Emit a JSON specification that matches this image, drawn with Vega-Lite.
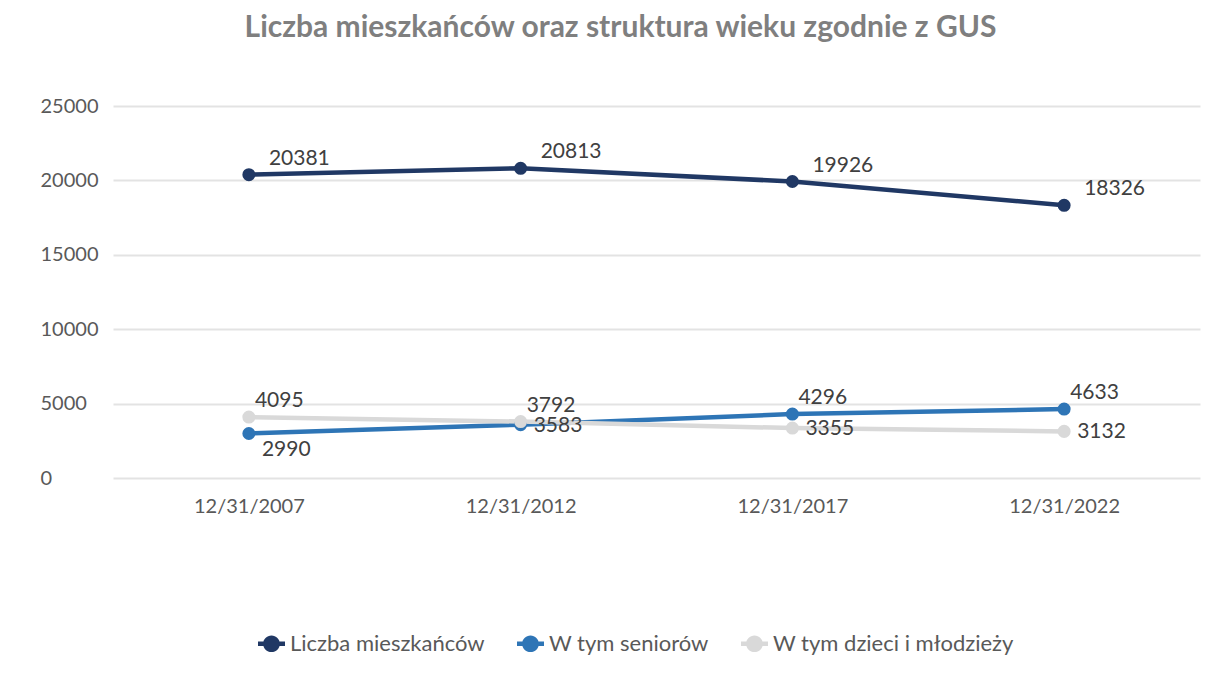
{
  "$schema": "https://vega.github.io/schema/vega-lite/v6.json",
  "width": 1087,
  "height": 372,
  "autosize": {"type": "none"},
  "padding": {"left": 113, "top": 106, "right": 29, "bottom": 197},
  "background": "white",
  "title": {
    "text": "Liczba mieszkańców oraz struktura wieku zgodnie z GUS",
    "font": "Lato",
    "fontSize": 30,
    "fontWeight": "bold",
    "color": "#7f7f7f",
    "anchor": "middle",
    "dx": -36,
    "offset": 53
  },
  "data": {
    "values": [
      {"date": "12/31/2007", "series": "Liczba mieszkańców", "value": 20381},
      {"date": "12/31/2012", "series": "Liczba mieszkańców", "value": 20813},
      {"date": "12/31/2017", "series": "Liczba mieszkańców", "value": 19926},
      {"date": "12/31/2022", "series": "Liczba mieszkańców", "value": 18326},
      {"date": "12/31/2007", "series": "W tym seniorów", "value": 2990},
      {"date": "12/31/2012", "series": "W tym seniorów", "value": 3583},
      {"date": "12/31/2017", "series": "W tym seniorów", "value": 4296},
      {"date": "12/31/2022", "series": "W tym seniorów", "value": 4633},
      {"date": "12/31/2007", "series": "W tym dzieci i młodzieży", "value": 4095},
      {"date": "12/31/2012", "series": "W tym dzieci i młodzieży", "value": 3792},
      {"date": "12/31/2017", "series": "W tym dzieci i młodzieży", "value": 3355},
      {"date": "12/31/2022", "series": "W tym dzieci i młodzieży", "value": 3132}
    ]
  },
  "encoding": {
    "x": {
      "field": "date",
      "type": "ordinal",
      "scale": {"type": "point", "padding": 0.5},
      "axis": {
        "title": null,
        "labelAngle": 0,
        "domain": false,
        "ticks": false,
        "labelPadding": 18,
        "labelFont": "Lato",
        "labelFontSize": 20,
        "labelColor": "#595959"
      }
    },
    "y": {
      "field": "value",
      "type": "quantitative",
      "scale": {"domain": [0, 25000], "nice": false},
      "axis": {
        "title": null,
        "values": [0, 5000, 10000, 15000, 20000, 25000],
        "format": "d",
        "domain": false,
        "ticks": false,
        "labelAlign": "left",
        "labelPadding": 73,
        "labelFont": "Lato",
        "labelFontSize": 20,
        "labelColor": "#595959",
        "gridColor": "#e3e3e3",
        "gridWidth": 2
      }
    }
  },
  "layer": [
    {
      "mark": {"type": "line", "strokeWidth": 4.5, "point": {"filled": true, "size": 170, "opacity": 1}},
      "encoding": {
        "color": {
          "field": "series",
          "type": "nominal",
          "scale": {
            "domain": ["Liczba mieszkańców", "W tym seniorów", "W tym dzieci i młodzieży"],
            "range": ["#203864", "#2e75b6", "#d9d9d9"]
          },
          "legend": {
            "title": null,
            "orient": "none",
            "direction": "horizontal",
            "legendX": 145,
            "legendY": 524,
            "symbolType": "M-1,-0.17L1,-0.17L1,0.17L-1,0.17Z M-0.62,0A0.62,0.62 0 1,1 0.62,0A0.62,0.62 0 1,1 -0.62,0Z",
            "symbolSize": 729,
            "symbolStrokeWidth": 0,
            "labelFont": "Lato",
            "labelFontSize": 22,
            "labelColor": "#595959",
            "labelLimit": 0,
            "columnPadding": 32,
            "labelOffset": 5
          }
        },
        "order": {"field": "date"}
      }
    },
    {
      "transform": [{"filter": "datum.series == 'Liczba mieszkańców'"}],
      "mark": {"type": "text", "align": "left", "dx": 20, "dy": -16, "font": "Lato", "fontSize": 21, "color": "#404040"},
      "encoding": {"text": {"field": "value", "type": "quantitative", "format": "d"}}
    },
    {
      "transform": [{"filter": "datum.value == 4095 || datum.value == 3792 || datum.value == 4296 || datum.value == 4633"}],
      "mark": {"type": "text", "align": "left", "dx": 6, "dy": -16, "font": "Lato", "fontSize": 21, "color": "#404040"},
      "encoding": {"text": {"field": "value", "type": "quantitative", "format": "d"}}
    },
    {
      "transform": [{"filter": "datum.value == 3583 || datum.value == 3355 || datum.value == 3132"}],
      "mark": {"type": "text", "align": "left", "dx": 13, "dy": 1, "font": "Lato", "fontSize": 21, "color": "#404040"},
      "encoding": {"text": {"field": "value", "type": "quantitative", "format": "d"}}
    },
    {
      "transform": [{"filter": "datum.value == 2990"}],
      "mark": {"type": "text", "align": "left", "dx": 13, "dy": 16, "font": "Lato", "fontSize": 21, "color": "#404040"},
      "encoding": {"text": {"field": "value", "type": "quantitative", "format": "d"}}
    }
  ],
  "config": {"view": {"stroke": null}}
}
